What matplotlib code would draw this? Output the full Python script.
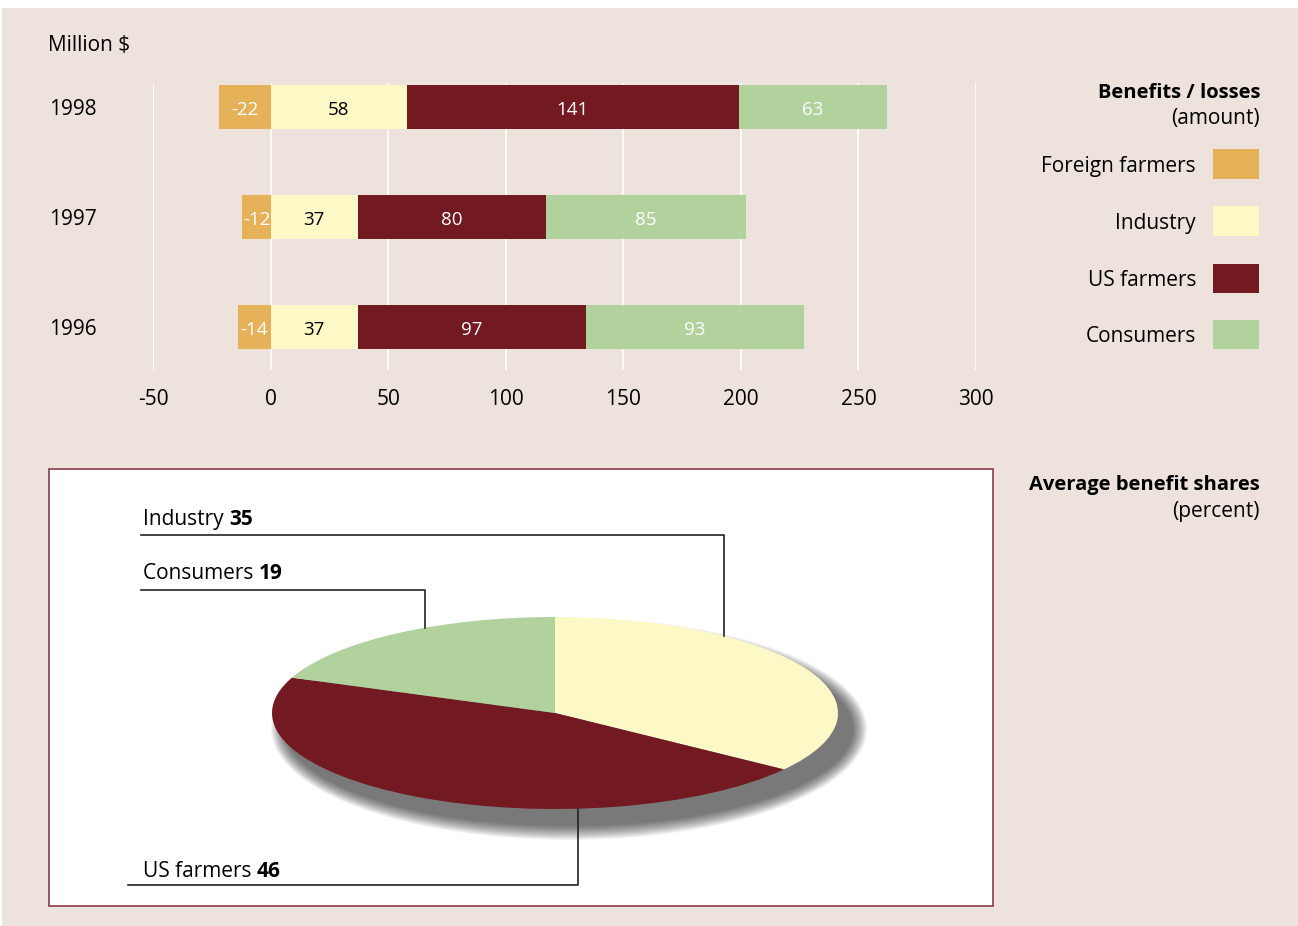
import matplotlib
matplotlib.use('Agg')
import matplotlib.pyplot as plt
from matplotlib.patches import Rectangle, Ellipse
import matplotlib.transforms as mtransforms
import numpy as np

plt.rcParams['font.family'] = ['Open Sans', 'DejaVu Sans']

# ---- data ----
years = ['1996', '1997', '1998']
foreign_farmers = [-14, -12, -22]
industry = [37, 37, 58]
us_farmers = [97, 80, 141]
consumers = [93, 85, 63]

groups = ['Foreign farmers', 'Industry', 'US farmers', 'Consumers']
colors = ['#E5B25A', '#FDF9C6', '#721922', '#B1D29D']
text_colors = ['white', 'black', 'white', 'white']

pie_labels = ['Industry', 'US farmers', 'Consumers']
pie_shares = [35, 46, 19]
pie_colors = ['#FDF9C6', '#721922', '#B1D29D']

BG = '#EDE3DC'
W, H = 1298, 926
DOWN = 2.5  # small baseline nudge for text


def fx(x):
    return x / W


def fy(y):
    return 1 - y / H


fig = plt.figure(figsize=(W / 100, H / 100), dpi=100, facecolor='white')
fig.add_artist(Rectangle((fx(2), 0), 1 - fx(2), fy(8), transform=fig.transFigure,
                         facecolor=BG, edgecolor='none', zorder=0))

# ---- stacked bars ----
ax = fig.add_axes([fx(153), fy(370), fx(976) - fx(153), fy(83) - fy(370)])
ax.set_facecolor('none')
ypos = np.arange(len(years))
h = 0.4
ax.barh(ypos, foreign_farmers, left=0, height=h, color=colors[0])
left = np.zeros(len(years))
series = [foreign_farmers, industry, us_farmers, consumers]
for k, vals in enumerate(series[1:], start=1):
    ax.barh(ypos, vals, left=left, height=h, color=colors[k])
    left = left + np.array(vals)

nudge = mtransforms.ScaledTranslation(0, -DOWN / 100, fig.dpi_scale_trans)
for i in range(len(years)):
    ax.text(foreign_farmers[i] / 2, ypos[i], str(foreign_farmers[i]), ha='center',
            va='center', color=text_colors[0], fontsize=13.5,
            transform=ax.transData + nudge)
    start = 0
    for k, vals in enumerate(series[1:], start=1):
        ax.text(start + vals[i] / 2, ypos[i], str(vals[i]), ha='center', va='center',
                color=text_colors[k], fontsize=13.5, transform=ax.transData + nudge)
        start += vals[i]

ax.set_xlim(-50, 300)
ax.set_ylim(-0.39, 2.22)
ax.set_xticks(range(-50, 301, 50))
ax.set_xticklabels([str(v) for v in range(-50, 301, 50)], fontsize=15)
ax.tick_params(axis='x', length=0, pad=14)
ax.set_yticks([])
ax.grid(axis='x', color='white', linewidth=1.2)
ax.set_axisbelow(True)
for s in ax.spines.values():
    s.set_visible(False)

blend = mtransforms.blended_transform_factory(fig.transFigure, ax.transData)
for i, yr in enumerate(years):
    ax.text(fx(49), ypos[i], yr, transform=blend + nudge, ha='left', va='center',
            fontsize=15)

fig.text(fx(48), fy(43 + DOWN), 'Million $', ha='left', va='center', fontsize=15)

# ---- legend ----
fig.text(fx(1260), fy(90 + DOWN), 'Benefits / losses', ha='right', va='center',
         fontsize=14.5, fontweight='bold')
fig.text(fx(1260), fy(116 + DOWN), '(amount)', ha='right', va='center', fontsize=15)
leg_y = [164, 221, 278, 334]
for g, c, y in zip(groups, colors, leg_y):
    fig.add_artist(Rectangle((fx(1213), fy(y + 14.5)), fx(46), fy(0) - fy(29),
                             transform=fig.transFigure, facecolor=c, edgecolor='none'))
    fig.text(fx(1196), fy(y + DOWN), g, ha='right', va='center', fontsize=15)

fig.text(fx(1260), fy(483 + DOWN), 'Average benefit shares', ha='right', va='center',
         fontsize=14.5, fontweight='bold')
fig.text(fx(1260), fy(509 + DOWN), '(percent)', ha='right', va='center', fontsize=15)

# ---- pie panel ----
fig.add_artist(Rectangle((fx(49), fy(906)), fx(993) - fx(49), fy(469) - fy(906),
                         transform=fig.transFigure, facecolor='white',
                         edgecolor='#8C3B4A', linewidth=1.2, zorder=1))

cx, cy, rx, ry = 555, 713, 283, 96
pax = fig.add_axes([fx(50), fy(905), fx(992) - fx(50), fy(470) - fy(905)], zorder=2)
pax.set_facecolor('none')


def dx(x):
    return (x - cx) / rx


def dy(y):
    return (cy - y) / ry


# soft drop shadow (stack of translucent ellipses), lower right
nsh = 16
for k in range(nsh):
    g = 30 * (1 - k / nsh)
    pax.add_patch(Ellipse((dx(cx + 14), dy(cy + 16)), 2 + g / rx, 2 + g / ry,
                          facecolor='black', edgecolor='none', alpha=0.042, zorder=1))

wedges, _ = pax.pie(pie_shares, colors=pie_colors, startangle=90, counterclock=False,
                    wedgeprops=dict(linewidth=0, zorder=3))
pax.set_aspect('auto')
pax.set_xlim(dx(50), dx(992))
pax.set_ylim(dy(905), dy(470))
pax.axis('off')

# leader lines & labels
label_pos = {'Industry': (143, 517, 141, 535, 724),
             'Consumers': (143, 571, 141, 590, 425),
             'US farmers': (143, 869, 128, 885, 578)}
fig.canvas.draw()
renderer = fig.canvas.get_renderer()
for name, share in zip(pie_labels, pie_shares):
    tx, ty, lx, ly, vx = label_pos[name]
    xe = dx(vx)
    ye = np.sqrt(max(0.0, 1 - xe ** 2))
    if dy(ly) < 0:
        ye = -ye
    pax.plot([dx(lx), xe, xe], [dy(ly), dy(ly), ye], color='#222222', lw=1.2,
             clip_on=False, zorder=4)
    t = fig.text(fx(tx), fy(ty + DOWN), name + ' ', ha='left', va='center', fontsize=15)
    bb = t.get_window_extent(renderer)
    fig.text(bb.x1 / fig.bbox.width, fy(ty + DOWN), str(share), ha='left', va='center',
             fontsize=15, fontweight='bold')

fig.savefig('out.png', dpi=100, facecolor='white')
